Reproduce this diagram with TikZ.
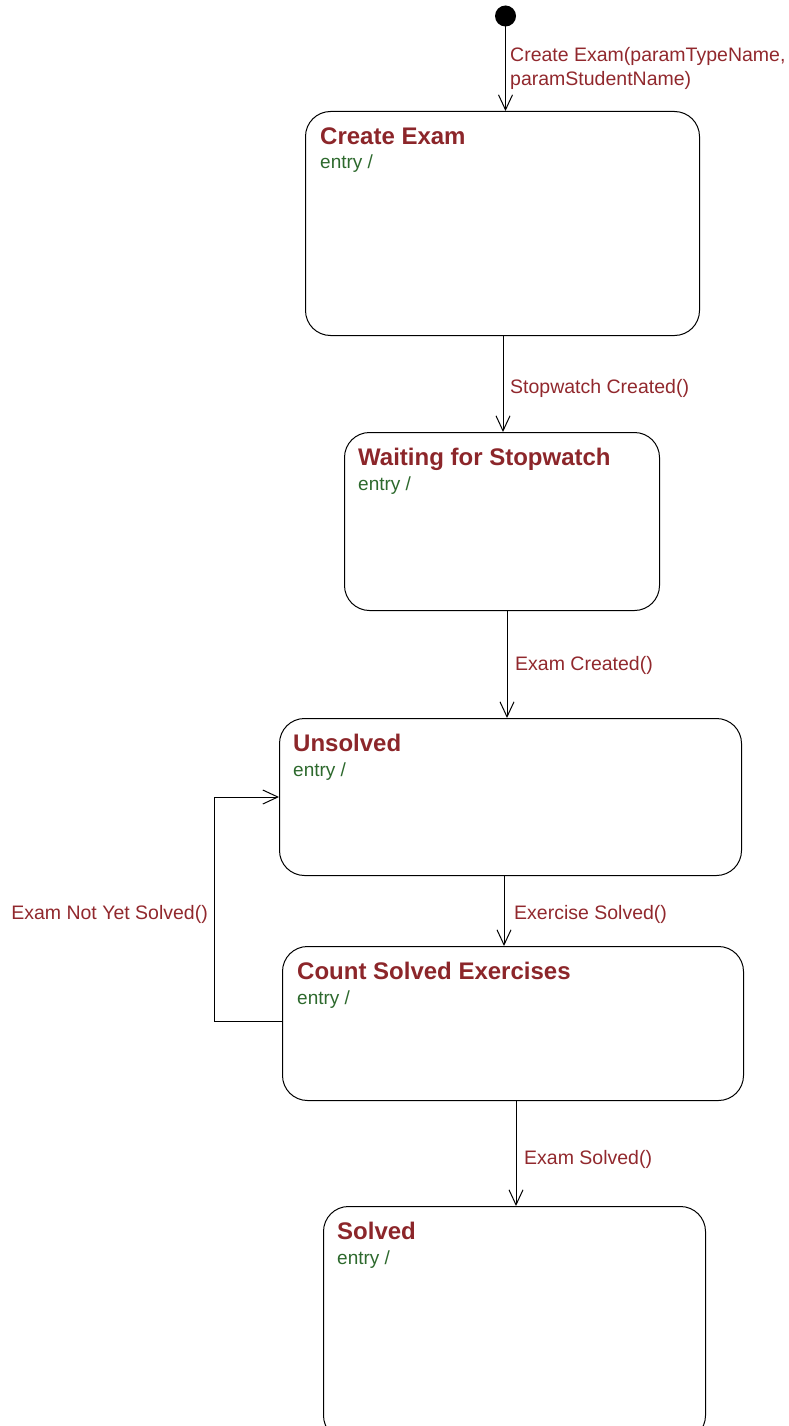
\documentclass[tikz,border=0pt]{standalone}
\usepackage{fontspec}
\setmainfont{Liberation Sans}
\usetikzlibrary{arrows.meta}
\definecolor{titlered}{RGB}{140,38,42}
\definecolor{labelred}{RGB}{145,40,45}
\definecolor{entrygreen}{RGB}{45,105,45}
\tikzset{
  statebox/.style={draw=black, line width=1pt, rounded corners=25pt, inner sep=0pt, anchor=north west},
  statetitle/.style={anchor=base west, inner sep=0pt, text=titlered, font=\fontsize{24}{27}\selectfont\bfseries},
  entrytext/.style={anchor=base west, inner sep=0pt, text=entrygreen, font=\fontsize{19}{22}\selectfont},
  trlabel/.style={inner sep=0pt, text=labelred, font=\fontsize{19.5}{24}\selectfont},
  trans/.style={draw=black, line width=1pt, -{Straight Barb[length=15pt,width=14pt,line width=1pt]}}
}
\begin{document}
\begin{tikzpicture}[x=1pt,y=-1pt]
\useasboundingbox (0,0) rectangle (789,1426);
\clip (0,0) rectangle (789,1426);

% initial pseudo-state
\fill[black] (505.5,16) circle (10.5);
\coordinate (init) at (505.5,26.5);

% states
\node[statebox, minimum width=394pt, minimum height=224pt] (createExam) at (305,111) {};
\node[statetitle] (createExamT) at (320,144) {Create Exam};
\node[entrytext] (createExamE) at (320,168) {entry /};

\node[statebox, minimum width=315pt, minimum height=178pt] (waiting) at (344,432) {};
\node[statetitle] (waitingT) at (358,465) {Waiting for Stopwatch};
\node[entrytext] (waitingE) at (358,490) {entry /};

\node[statebox, minimum width=462pt, minimum height=157pt] (unsolved) at (279,718) {};
\node[statetitle] (unsolvedT) at (293,751) {Unsolved};
\node[entrytext] (unsolvedE) at (293,776) {entry /};

\node[statebox, minimum width=461pt, minimum height=154pt] (count) at (282,946) {};
\node[statetitle] (countT) at (297,979) {Count Solved Exercises};
\node[entrytext] (countE) at (297,1004) {entry /};

\node[statebox, minimum width=382pt, minimum height=234pt] (solved) at (323,1206) {};
\node[statetitle] (solvedT) at (337,1239) {Solved};
\node[entrytext] (solvedE) at (337,1264) {entry /};

% transitions
\draw[trans] (init) -- (createExam.north -| init);
\node[trlabel, anchor=base west] (l1a) at (510,62) {Create Exam(paramTypeName,};
\node[trlabel, anchor=base west] (l1b) at (510,86) {paramStudentName)};

\draw[trans] (createExam.south -| 503,0) -- (waiting.north -| 503,0);
\node[trlabel, anchor=base west] (l2) at (510,393) {Stopwatch Created()};

\draw[trans] (waiting.south -| 507,0) -- (unsolved.north -| 507,0);
\node[trlabel, anchor=base west] (l3) at (515,670) {Exam Created()};

\draw[trans] (unsolved.south -| 504,0) -- (count.north -| 504,0);
\node[trlabel, anchor=base west] (l4) at (514,919) {Exercise Solved()};

\draw[trans] (count.south -| 516,0) -- (solved.north -| 516,0);
\node[trlabel, anchor=base west] (l5) at (524,1164) {Exam Solved()};

% self loop back to Unsolved
\draw[trans] (count.west |- 0,1021) -- (214,1021) -- (214,797) -- (unsolved.west |- 0,797);
\node[trlabel, anchor=base east] (l6) at (208,919) {Exam Not Yet Solved()};
\end{tikzpicture}
\end{document}
